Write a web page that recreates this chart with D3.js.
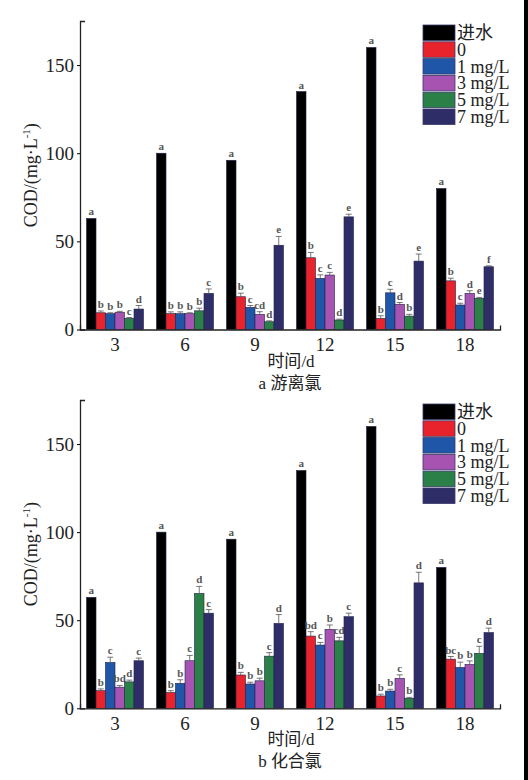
<!DOCTYPE html>
<html>
<head>
<meta charset="utf-8">
<script src="https://cdn.jsdelivr.net/npm/d3@7"></script>
<style>
body { margin: 0; background: #fff; }
svg { display: block; }
svg text, svg tspan { font-family: "Liberation Serif", serif; }
svg .cjk { font-family: "Noto Sans CJK SC", sans-serif; }
</style>
</head>
<body>
<div id="svgWrapper"></div>
<script>

// sampling days (x categories) and the six series
var days = ["3", "6", "9", "12", "15", "18"];
var seriesNames = ["进水", "0", "1 mg/L", "3 mg/L", "5 mg/L", "7 mg/L"];
var yTicks = [0, 50, 100, 150];

// a 游离氯 : one row per series, one value per day
var freeValues = [
	[63, 100, 96, 135, 160, 80],
	[9.5, 9, 18.6, 40.7, 6.3, 27.6],
	[9, 9, 12.6, 29, 20.8, 13.9],
	[9.8, 9, 8.6, 30.9, 14.3, 20.5],
	[6.3, 10.6, 4.4, 5.4, 7.6, 17.7],
	[11.6, 20.5, 47.8, 63.9, 38.8, 35.6]
];
var freeErrors = [
	[0, 0, 0, 0, 0, 0],
	[1, 1, 2, 3, 1.5, 1.5],
	[0.5, 1, 1, 2, 2, 1],
	[0.5, 0.5, 1.5, 1.5, 1, 1.5],
	[0.5, 1.5, 0.5, 0.5, 1, 0.5],
	[2, 2.5, 5, 1.5, 4, 0.5]
];
var freeLetters = [
	["a", "a", "a", "a", "a", "a"],
	["b", "b", "b", "b", "b", "b"],
	["b", "b", "c", "c", "c", "c"],
	["b", "b", "cd", "c", "d", "d"],
	["c", "b", "d", "d", "b", "e"],
	["d", "c", "e", "e", "e", "f"]
];

// b 化合氯
var combValues = [
	[63, 100, 96, 135, 160, 80],
	[10, 9, 18.9, 41, 7, 27.9],
	[26, 14.2, 13.8, 35.9, 9.8, 23.2],
	[12, 27, 15.6, 44.8, 17, 24.9],
	[15, 65.2, 29.6, 38.3, 5.7, 31.2],
	[27, 54, 48.2, 52, 71.2, 43]
];
var combErrors = [
	[0, 0, 0, 0, 0, 0],
	[1, 1, 1.5, 2.5, 1, 1.5],
	[3, 2, 1, 1.5, 1, 3],
	[1, 3, 1.5, 2.5, 2, 2],
	[1, 4, 2, 2, 0.5, 4],
	[1.5, 2, 5, 2, 6, 2.5]
];
var combLetters = [
	["a", "a", "a", "a", "a", "a"],
	["b", "b", "b", "bd", "b", "bc"],
	["c", "b", "b", "c", "b", "b"],
	["bd", "c", "b", "b", "c", "b"],
	["d", "d", "c", "cd", "b", "c"],
	["c", "c", "d", "c", "d", "d"]
];

var colors = ["#000000", "#e8232b", "#1f56a8", "#a653b2", "#2a8047", "#2f2d68"];

var svg = d3.select("#svgWrapper")
	.append("svg")
	.attr("width", 528)
	.attr("height", 780);

svg.append("rect").attr("width", 528).attr("height", 780).attr("fill", "white");
// dark strip on the right edge of the scanned figure
svg.append("rect").attr("x", 524).attr("width", 4).attr("height", 780).attr("fill", "black");

function drawPanel(top, bottom, values, errors, letters, caption) {
	var g = svg.append("g");

	var x = d3.scaleBand()
		.domain(days)
		.range([80, 500])
		.paddingInner(0.186)
		.paddingOuter(0.093);

	var xSub = d3.scaleBand()
		.domain(d3.range(seriesNames.length))
		.range([0, x.bandwidth()]);

	var y = d3.scaleLinear()
		.domain([0, 175])
		.range([bottom, top]);

	// bars, one group per series
	var series = g.selectAll("g.series")
		.data(values)
		.enter().append("g")
		.attr("class", "series");

	series.each(function(vals, si) {
		var s = d3.select(this);
		var pts = vals.map(function(v, di) {
			return {day: days[di], v: v, e: errors[si][di], l: letters[si][di]};
		});
		var cx = function(d) { return x(d.day) + xSub(si) + xSub.bandwidth() / 2; };

		s.selectAll("rect")
			.data(pts)
			.enter().append("rect")
			.attr("x", function(d) { return x(d.day) + xSub(si); })
			.attr("y", function(d) { return y(d.v); })
			.attr("width", xSub.bandwidth())
			.attr("height", function(d) { return y(0) - y(d.v); })
			.attr("fill", colors[si])
			.attr("stroke", "#22224a")
			.attr("stroke-width", 0.6);

		// error bars
		var eb = s.selectAll("g.err")
			.data(pts.filter(function(d) { return d.e > 0; }))
			.enter().append("g")
			.attr("class", "err")
			.attr("stroke", "#555")
			.attr("stroke-width", 0.8);
		eb.append("line")
			.attr("x1", cx).attr("x2", cx)
			.attr("y1", function(d) { return y(d.v); })
			.attr("y2", function(d) { return y(d.v + d.e); });
		eb.append("line")
			.attr("x1", function(d) { return cx(d) - 3; })
			.attr("x2", function(d) { return cx(d) + 3; })
			.attr("y1", function(d) { return y(d.v + d.e); })
			.attr("y2", function(d) { return y(d.v + d.e); });

		// significance letters
		s.selectAll("text")
			.data(pts)
			.enter().append("text")
			.attr("x", cx)
			.attr("y", function(d) { return y(d.v + d.e) - 3; })
			.attr("text-anchor", "middle")
			.attr("font-size", 11)
			.attr("font-weight", "bold")
			.attr("fill", "#555")
			.text(function(d) { return d.l; });
	});

	// axes
	var yAxis = g.append("g")
		.attr("transform", "translate(80,0)")
		.call(d3.axisLeft(y).tickValues(yTicks).tickSize(3).tickSizeOuter(-5).tickPadding(3));
	yAxis.selectAll("text").attr("font-size", 19).attr("fill", "#222");

	var xAxis = g.append("g")
		.attr("transform", "translate(0," + bottom + ")")
		.call(d3.axisBottom(x).tickSizeInner(0).tickSizeOuter(-4).tickPadding(8));
	xAxis.selectAll("text").attr("font-size", 19).attr("fill", "#222");
	g.selectAll(".domain").attr("stroke", "#222").attr("stroke-width", 1.3);

	// y title
	var yt = g.append("text")
		.attr("transform", "translate(37," + ((top + bottom) / 2) + ") rotate(-90)")
		.attr("text-anchor", "middle")
		.attr("font-size", 18)
		.attr("fill", "#222");
	yt.append("tspan").text("COD/(mg·L");
	yt.append("tspan").attr("font-size", 11).attr("dy", -7).text("-1");
	yt.append("tspan").attr("dy", 7).text(")");

	// x title + caption
	var xt = g.append("text")
		.attr("x", 291)
		.attr("y", bottom + 37)
		.attr("text-anchor", "middle")
		.attr("font-size", 17)
		.attr("fill", "#222");
	xt.append("tspan").attr("class", "cjk").text("时间");
	xt.append("tspan").text("/d");

	var ct = g.append("text")
		.attr("x", 290)
		.attr("y", bottom + 59)
		.attr("text-anchor", "middle")
		.attr("font-size", 17)
		.attr("fill", "#222");
	ct.append("tspan").text(caption[0] + " ");
	ct.append("tspan").attr("class", "cjk").text(caption[1]);

	// legend
	var legend = g.append("g").attr("transform", "translate(423," + (top + 4) + ")");
	var rows = legend.selectAll("g")
		.data(seriesNames)
		.enter().append("g")
		.attr("transform", function(d, i) { return "translate(0," + (i * 16.8) + ")"; });
	rows.append("rect")
		.attr("width", 32)
		.attr("height", 15.5)
		.attr("fill", function(d, i) { return colors[i]; })
		.attr("stroke", "#3a3a6a")
		.attr("stroke-width", 0.8);
	rows.append("text")
		.attr("x", 34)
		.attr("y", 14)
		.attr("class", function(d, i) { return i == 0 ? "cjk" : null; })
		.attr("font-size", 18)
		.attr("fill", "#222")
		.text(function(d) { return d; });
}

drawPanel(21, 329.5, freeValues, freeErrors, freeLetters, ["a", "游离氯"]);
drawPanel(400, 708.3, combValues, combErrors, combLetters, ["b", "化合氯"]);

</script>
</body>
</html>
